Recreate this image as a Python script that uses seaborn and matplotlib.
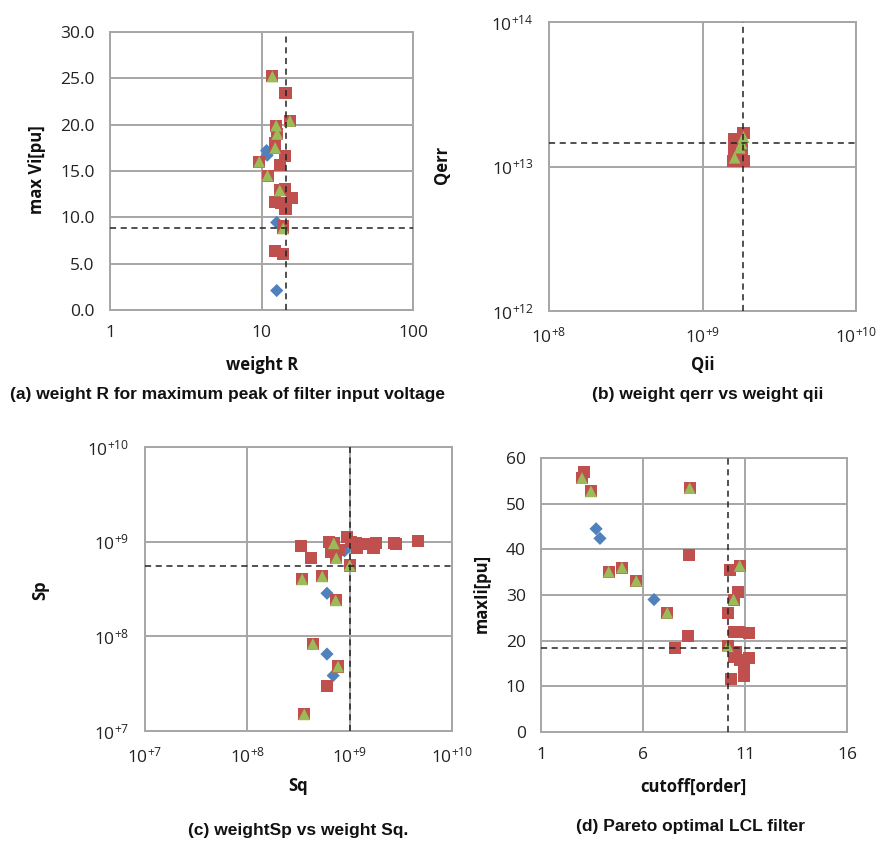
import numpy as np
import pandas as pd
import matplotlib
matplotlib.use('Agg')
import matplotlib.pyplot as plt
import matplotlib.ticker as mticker
import seaborn as sns

# (a) weight R vs max Vi[pu]
a_blue_x = [10.8, 10.9, 12.6, 12.6]
a_blue_y = [17.2, 16.7, 9.45, 2.1]
a_red_x = [11.8, 14.4, 15.4, 12.5, 12.7, 12.2, 12.3, 14.3, 9.66, 13.2, 10.96, 13.2, 14.2,
           15.8, 12.2, 13.5, 14.4, 13.9, 13.9, 12.3, 13.8]
a_red_y = [25.2, 23.4, 20.4, 19.9, 19.0, 18.0, 17.5, 16.6, 16.0, 15.6, 14.5, 12.9, 13.1,
           12.1, 11.7, 11.5, 10.9, 9.05, 8.8, 6.4, 6.0]
a_green_x = [11.8, 15.4, 12.5, 12.7, 12.3, 9.66, 10.96, 13.2, 13.9]
a_green_y = [25.2, 20.4, 19.9, 19.0, 17.5, 16.0, 14.5, 12.9, 8.8]
a_ref = (14.5, 8.85)

# (b) Qii vs Qerr
b_red_x = [1.58e9, 1.6e9, 1.6e9, 1.6e9, 1.85e9, 1.85e9, 1.8e9, 1.7e9, 1.7e9]
b_red_y = [1.1e13, 1.25e13, 1.4e13, 1.55e13, 1.1e13, 1.7e13, 1.3e13, 1.5e13, 1.1e13]
b_green_x = [1.62e9, 1.75e9, 1.85e9, 1.8e9]
b_green_y = [1.15e13, 1.35e13, 1.6e13, 1.45e13]
b_ref = (1.84e9, 1.45e13)

# (c) Sq vs Sp
c_blue_x = [6.0e8, 8.9e8, 6.0e8, 6.9e8]
c_blue_y = [2.85e8, 8.0e8, 6.5e7, 3.85e7]
c_red_x = [3.36e8, 4.15e8, 3.44e8, 5.4e8, 7.3e8, 7.0e8, 6.3e8, 6.5e8, 7.9e8, 7.4e8, 9.5e8,
           1.02e9, 1.0e9, 1.19e9, 1.15e9, 1.49e9, 1.71e9, 1.8e9, 2.72e9, 2.82e9, 4.68e9,
           4.37e8, 7.7e8, 6.0e8, 3.6e8]
c_red_y = [9.0e8, 6.7e8, 4.0e8, 4.3e8, 2.4e8, 9.6e8, 1.0e9, 7.7e8, 8.2e8, 6.7e8, 1.13e9,
           1.0e9, 5.6e8, 8.5e8, 9.6e8, 9.5e8, 8.5e8, 9.6e8, 9.7e8, 9.4e8, 1.01e9,
           8.3e7, 4.8e7, 3.0e7, 1.5e7]
c_green_x = [3.44e8, 5.4e8, 7.3e8, 7.0e8, 7.4e8, 1.0e9, 4.37e8, 7.7e8, 3.6e8]
c_green_y = [4.0e8, 4.3e8, 2.4e8, 9.6e8, 6.7e8, 5.6e8, 8.3e7, 4.8e7, 1.5e7]
c_ref = (1.0e9, 5.5e8)

# (d) cutoff[order] vs maxIi[pu]
d_blue_x = [3.70, 3.89, 6.54]
d_blue_y = [44.5, 42.4, 29.0]
d_red_x = [3.09, 3.01, 3.45, 8.29, 8.24, 4.32, 4.97, 5.67, 7.19, 8.19, 7.59, 10.28, 10.74,
           10.67, 10.44, 10.18, 10.44, 10.69, 11.18, 10.15, 10.58, 10.44, 10.77, 11.18,
           10.97, 10.93, 10.31]
d_red_y = [56.9, 55.6, 52.7, 53.4, 38.8, 35.1, 36.0, 33.1, 26.1, 21.0, 18.4, 35.5, 36.4,
           30.7, 29.0, 26.1, 21.8, 22.0, 21.6, 18.8, 17.6, 16.5, 15.7, 16.3,
           13.9, 12.2, 11.7]
d_green_x = [3.01, 3.45, 8.29, 4.32, 4.97, 5.67, 7.19, 10.74, 10.44, 10.15]
d_green_y = [55.6, 52.7, 53.4, 35.1, 36.0, 33.1, 26.1, 36.4, 29.0, 18.8]
d_ref = (10.17, 18.4)

BLUE, RED, GREEN = '#4f81bd', '#c0504d', '#9bbb59'
GRAY = '#a6a6a6'

sns.set_style('white')
plt.rcParams['font.family'] = ['Open Sans', 'DejaVu Sans']
plt.rcParams['mathtext.default'] = 'regular'

fig = plt.figure(figsize=(8.91, 8.42), dpi=100)
W, H = 891.0, 842.0


def make_ax(l, r, t, b):
    return fig.add_axes([l / W, 1 - b / H, (r - l) / W, (b - t) / H])


def draw(ax, blue, red, green, ref):
    if blue is not None:
        sns.scatterplot(x=blue[0], y=blue[1], ax=ax, color=BLUE, marker='D', s=45,
                        edgecolor='none', zorder=3)
    sns.scatterplot(x=red[0], y=red[1], ax=ax, color=RED, marker='s', s=75,
                    edgecolor='none', zorder=4)
    sns.scatterplot(x=green[0], y=green[1], ax=ax, color=GREEN, marker='^', s=72,
                    edgecolor='none', zorder=5)
    ax.axvline(ref[0], color='#222222', ls=(0, (4, 3)), lw=1.1, zorder=6)
    ax.axhline(ref[1], color='#222222', ls=(0, (4, 3)), lw=1.1, zorder=6)
    ax.grid(True, which='major', color=GRAY, lw=1.4)
    ax.minorticks_off()
    for s in ax.spines.values():
        s.set_color(GRAY)
        s.set_linewidth(1.4)
    ax.tick_params(axis='both', which='major', direction='out', length=5, width=1.4,
                   color=GRAY, labelsize=12.5, labelcolor='#222222', pad=6)
    ax.tick_params(axis='both', which='minor', length=0)
    ax.set_xlabel('')
    ax.set_ylabel('')


pow_fmt = mticker.FuncFormatter(lambda v, p: r'$10^{+%d}$' % round(np.log10(v)))

# (a)
ax = make_ax(110, 413, 32, 310)
draw(ax, (a_blue_x, a_blue_y), (a_red_x, a_red_y), (a_green_x, a_green_y), a_ref)
ax.set_xscale('log')
ax.set_xlim(1, 100)
ax.set_ylim(0, 30)
ax.set_xticks([1, 10, 100])
ax.xaxis.set_major_formatter(mticker.FuncFormatter(lambda v, p: '%d' % v))
ax.set_yticks(np.arange(0, 31, 5))
ax.yaxis.set_major_formatter(mticker.FormatStrFormatter('%.1f'))
ax.minorticks_off()

# (b)
ax = make_ax(549, 856, 22, 311)
draw(ax, None, (b_red_x, b_red_y), (b_green_x, b_green_y), b_ref)
ax.set_xscale('log')
ax.set_yscale('log')
ax.set_xlim(1e8, 1e10)
ax.set_ylim(1e12, 1e14)
ax.set_xticks([1e8, 1e9, 1e10])
ax.set_yticks([1e12, 1e13, 1e14])
ax.xaxis.set_major_formatter(pow_fmt)
ax.yaxis.set_major_formatter(pow_fmt)
ax.minorticks_off()

# (c)
ax = make_ax(145, 452, 447, 731)
draw(ax, (c_blue_x, c_blue_y), (c_red_x, c_red_y), (c_green_x, c_green_y), c_ref)
ax.set_xscale('log')
ax.set_yscale('log')
ax.set_xlim(1e7, 1e10)
ax.set_ylim(1e7, 1e10)
ax.set_xticks([1e7, 1e8, 1e9, 1e10])
ax.set_yticks([1e7, 1e8, 1e9, 1e10])
ax.xaxis.set_major_formatter(pow_fmt)
ax.yaxis.set_major_formatter(pow_fmt)
ax.minorticks_off()

# (d)
ax = make_ax(541, 847, 458, 732)
draw(ax, (d_blue_x, d_blue_y), (d_red_x, d_red_y), (d_green_x, d_green_y), d_ref)
ax.set_xlim(1, 16)
ax.set_ylim(0, 60)
ax.set_xticks([1, 6, 11, 16])
ax.set_yticks(np.arange(0, 61, 10))

# axis labels
lab = dict(fontsize=12, fontweight='bold', color='#111111', ha='center', va='center')
fig.text(262 / W, 1 - 365 / H, 'weight R', **lab)
fig.text(37 / W, 1 - 170 / H, 'max Vi[pu]', rotation=90, **lab)
fig.text(703 / W, 1 - 365 / H, 'Qii', **lab)
fig.text(442 / W, 1 - 165 / H, 'Qerr', rotation=90, **lab)
fig.text(298 / W, 1 - 786 / H, 'Sq', **lab)
fig.text(40 / W, 1 - 590 / H, 'Sp', rotation=90, **lab)
fig.text(693 / W, 1 - 787 / H, 'cutoff[order]', **lab)
fig.text(482 / W, 1 - 593 / H, 'maxIi[pu]', rotation=90, **lab)

# captions
cap = dict(fontsize=12.5, fontweight='bold', color='#111111', ha='center', va='center',
           family=['Liberation Sans', 'DejaVu Sans'])
fig.text(228 / W, 1 - 395 / H, '(a) weight R for maximum peak of filter input voltage', **cap)
fig.text(708 / W, 1 - 395 / H, '(b) weight qerr vs weight qii', **cap)
fig.text(298 / W, 1 - 831 / H, '(c) weightSp vs weight Sq.', **cap)
fig.text(690 / W, 1 - 827 / H, '(d) Pareto optimal LCL filter', **cap)

fig.savefig('out.png', dpi=100)
